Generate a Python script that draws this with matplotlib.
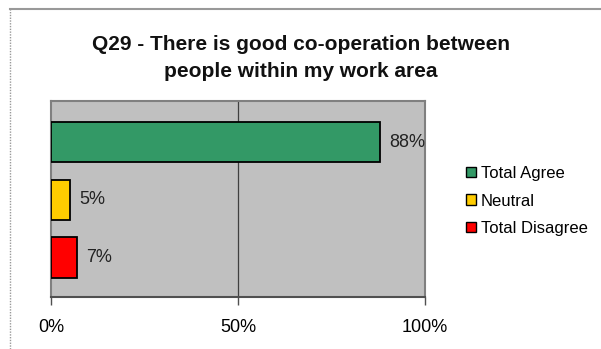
import matplotlib.pyplot as plt
from matplotlib.patches import Patch
import matplotlib.lines as mlines

# survey result for Q29
categories = ['Total Agree', 'Neutral', 'Total Disagree']
values = [88, 5, 7]
colors = ['#339966', '#FFCC00', '#FF0000']
ypos = [2, 1, 0]
xticks = [0, 50, 100]
xtick_labels = ['0%', '50%', '100%']

plt.rcParams['font.family'] = ['Liberation Sans', 'DejaVu Sans']

fig = plt.figure(figsize=(6.01, 3.49), dpi=100)
ax = fig.add_axes([51 / 601, 52 / 349, 374 / 601, 196 / 349])
ax.set_facecolor('#C0C0C0')

ax.barh(ypos, values, height=0.70, color=colors, edgecolor='black', linewidth=1.3, zorder=3)
for y, v in zip(ypos, values):
    ax.text(v + 2.5, y, f'{v}%', va='center', ha='left', fontsize=13, color='#222222')

ax.axvline(50, color='#404040', linewidth=0.9, zorder=2)

ax.set_xlim(0, 100)
ax.set_ylim(-0.68, 2.71)
ax.set_yticks([])
ax.set_xticks(xticks)
ax.set_xticklabels(xtick_labels, fontsize=13)
ax.tick_params(axis='x', length=6, width=1, color='#505050', pad=10)

for s in ax.spines.values():
    s.set_color('#808080')
    s.set_linewidth(1.5)
ax.spines['bottom'].set_color('#505050')

fig.text(0.501, 1 - 58 / 349, 'Q29 - There is good co-operation between\npeople within my work area',
         ha='center', va='center', fontsize=15, fontweight='bold', color='#111111',
         linespacing=1.5)

# outer chart frame: solid top edge, dotted left edge
fig.add_artist(mlines.Line2D([10 / 601, 1], [1 - 9 / 349, 1 - 9 / 349],
                             transform=fig.transFigure, color='#999999', linewidth=1.5))
fig.add_artist(mlines.Line2D([10.5 / 601, 10.5 / 601], [0, 1 - 9 / 349],
                             transform=fig.transFigure, color='#999999', linewidth=1,
                             linestyle=(0, (1, 1))))

handles = [Patch(facecolor=c, edgecolor='black', linewidth=1) for c in colors]
fig.legend(handles, categories, loc='center left', bbox_to_anchor=(459 / 601, 1 - 201 / 349),
           frameon=False, fontsize=12, handlelength=0.6, handleheight=0.6,
           handletextpad=0.3, labelspacing=0.75, borderaxespad=0)

fig.savefig('out.png', dpi=100)
